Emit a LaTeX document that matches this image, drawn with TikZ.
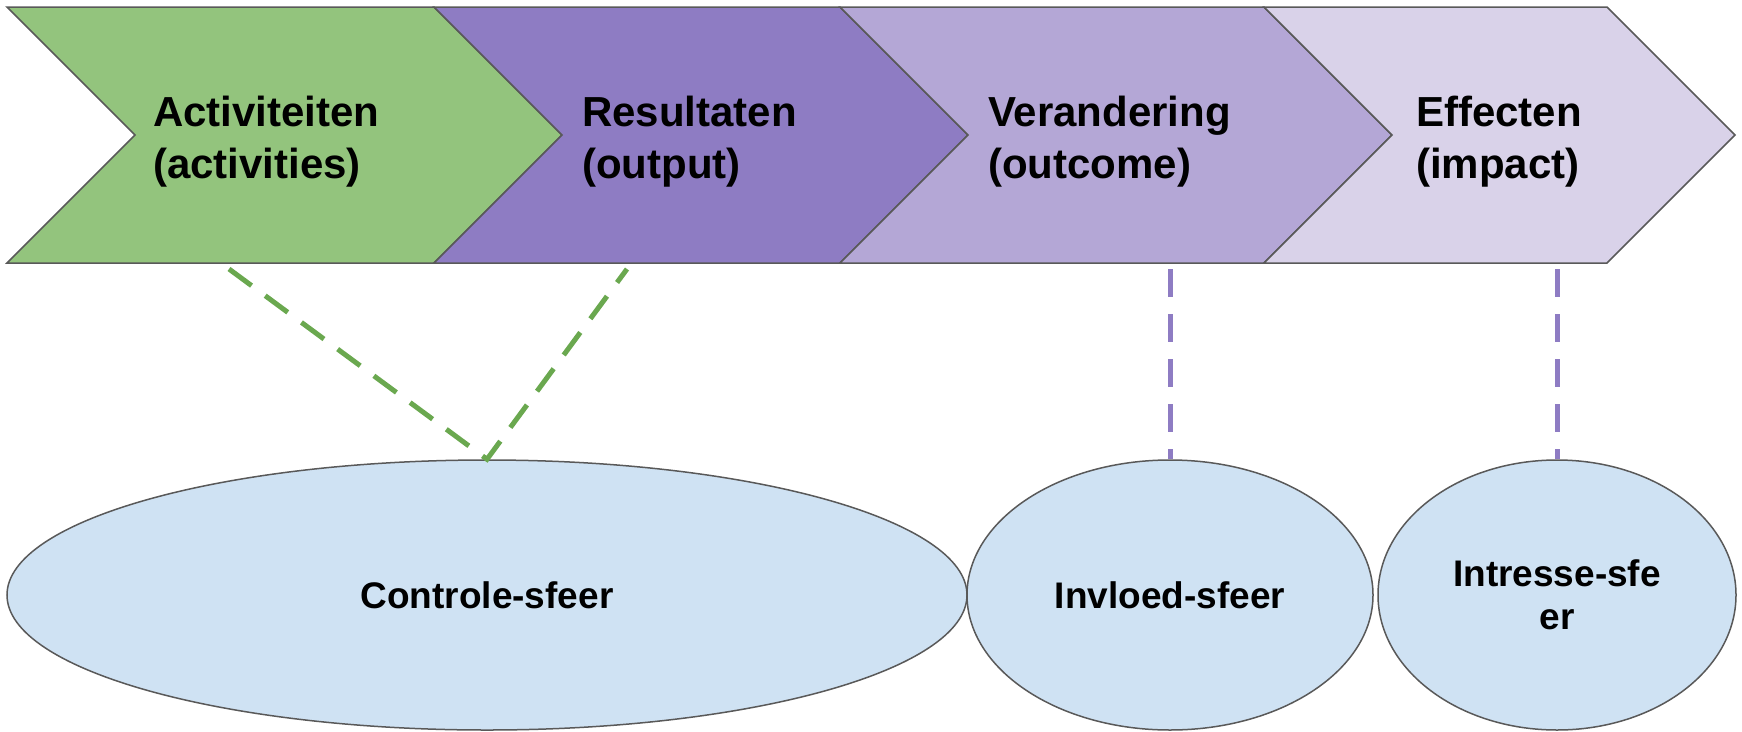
\documentclass[tikz,border=0pt]{standalone}
\usepackage{fontspec}
\setmainfont{Liberation Sans}
\usetikzlibrary{calc,shapes.geometric}

\definecolor{actgreen}{HTML}{93C47D}
\definecolor{resviolet}{HTML}{8E7CC3}
\definecolor{vervioletlight}{HTML}{B4A7D6}
\definecolor{effvioletpale}{HTML}{D9D2E9}
\definecolor{sphereblue}{HTML}{CFE2F3}
\definecolor{edgegray}{HTML}{595959}
\definecolor{linkgreen}{HTML}{6AA84F}

\begin{document}
\begin{tikzpicture}[x=1pt, y=-1pt,
  every node/.style={font=\fontsize{42}{52}\selectfont\bfseries},
  chev/.style={draw=edgegray, line width=1.5pt, line join=miter},
  label/.style={anchor=west, align=left, inner sep=0pt},
  sphere/.style={ellipse, draw=edgegray, fill=sphereblue, line width=1.5pt,
    inner sep=0pt, minimum height=270pt, align=center,
    font=\fontsize{37}{43}\selectfont\bfseries},
  link/.style={dash pattern=on 28pt off 17pt, line width=5pt}]
  \useasboundingbox (0,0) rectangle (1742,731);

  %--- Pijlen (chevrons)
  \filldraw[chev, fill=actgreen]
    (7,7) -- (434,7) -- (562,135) -- (434,263) -- (7,263) -- (135,135) -- cycle;
  \filldraw[chev, fill=resviolet]
    (434,7) -- (840,7) -- (968,135) -- (840,263) -- (434,263) -- (562,135) -- cycle;
  \filldraw[chev, fill=vervioletlight]
    (840,7) -- (1264,7) -- (1392,135) -- (1264,263) -- (840,263) -- (968,135) -- cycle;
  \filldraw[chev, fill=effvioletpale]
    (1264,7) -- (1607,7) -- (1735,135) -- (1607,263) -- (1264,263) -- (1392,135) -- cycle;

  % Teksten in de pijlen
  \node[label] (act) at (153,142) {Activiteiten\\(activities)};
  \node[label] (res) at (582,142) {Resultaten\\(output)};
  \node[label] (ver) at (988,142) {Verandering\\(outcome)};
  \node[label] (eff) at (1416,142) {Effecten\\(impact)};

  %--- Sferen
  \node[sphere, minimum width=960pt] (ctrl) at (487,595) {Controle-sfeer};
  \node[sphere, minimum width=406pt] (invl) at (1170,595) {Invloed-sfeer};
  \node[sphere, minimum width=358pt] (intr) at (1557,595) {Intresse-sfe\\er};

  %--- Verbindingen (gestreept)
  \coordinate (gA) at (229,269);
  \coordinate (gB) at (627,269);
  \coordinate (pC) at (1170,269);
  \coordinate (pD) at (1557,269);

  \draw[link, linkgreen] (gA) -- (ctrl.north) -- (gB);
  \draw[link, resviolet] (pC) -- (invl.north);
  \draw[link, resviolet] (pD) -- (intr.north);
\end{tikzpicture}
\end{document}
